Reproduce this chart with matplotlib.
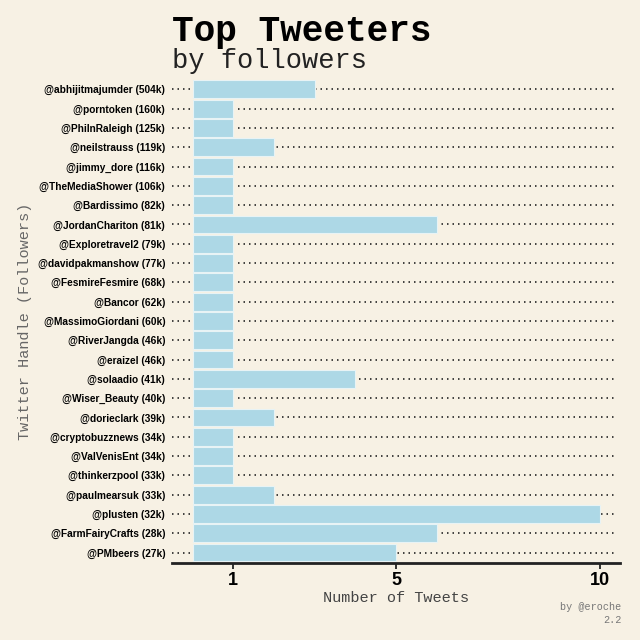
import matplotlib.pyplot as plt
import numpy as np

# ---------------------------------- Data ----------------------------------
handles = ['@abhijitmajumder', '@porntoken', '@PhilnRaleigh', '@neilstrauss',
           '@jimmy_dore', '@TheMediaShower', '@Bardissimo', '@JordanChariton',
           '@Exploretravel2', '@davidpakmanshow', '@FesmireFesmire', '@Bancor',
           '@MassimoGiordani', '@RiverJangda', '@eraizel', '@solaadio',
           '@Wiser_Beauty', '@dorieclark', '@cryptobuzznews', '@ValVenisEnt',
           '@thinkerzpool', '@paulmearsuk', '@plusten', '@FarmFairyCrafts',
           '@PMbeers']
followers = ['504k', '160k', '125k', '119k', '116k', '106k', '82k', '81k',
             '79k', '77k', '68k', '62k', '60k', '46k', '46k', '41k', '40k',
             '39k', '34k', '34k', '33k', '33k', '32k', '28k', '27k']
tweets = [3, 1, 1, 2, 1, 1, 1, 6, 1, 1, 1, 1, 1, 1, 1, 4, 1, 2, 1, 1, 1, 2,
          10, 6, 5]
x_ticks = [1, 5, 10]

bg = '#f7f1e4'
mono = ['Liberation Mono', 'DejaVu Sans Mono']
sans = ['Liberation Sans', 'DejaVu Sans']

# ---------------------------------- Plot ----------------------------------
fig = plt.figure(figsize=(6.4, 6.4), dpi=100, facecolor=bg)
ax = fig.add_axes([0.269, 0.12, 0.70, 0.757], facecolor=bg)

labels = [h + ' (' + f + ')' for h, f in zip(handles, followers)]
y = np.arange(len(handles))[::-1]

ax.barh(y, tweets, height=0.92, color='#add8e6', edgecolor='#e8f3f5',
        linewidth=0.8, zorder=2)

# dotted guide lines behind the bars
for yy in y:
    ax.plot([-0.5, 10.4], [yy, yy], color='#222222', linewidth=1.2,
            dashes=(0.9, 2.4), zorder=1)

ax.set_xlim(-0.5, 10.5)
ax.set_ylim(-0.55, len(handles) - 0.45)

ax.set_yticks(y)
ax.set_yticklabels(labels, family=sans, fontweight='bold', fontsize=7.3)
ax.tick_params(axis='y', length=0, pad=5)

ax.set_xticks(x_ticks)
ax.set_xticklabels([str(t) for t in x_ticks], family=sans,
                   fontweight='bold', fontsize=13)
ax.tick_params(axis='x', length=4, width=1.3, color='#222222', pad=2)

for s in ['top', 'right', 'left']:
    ax.spines[s].set_visible(False)
ax.spines['bottom'].set_linewidth(2)
ax.spines['bottom'].set_color('#222222')

ax.set_xlabel('Number of Tweets', family=mono, fontsize=11, color='#444444',
              labelpad=2)
ax.set_ylabel('Twitter Handle (Followers)', family=mono, fontsize=11,
              color='#666666')
ax.yaxis.set_label_coords(-0.312, 0.5)

fig.text(0.269, 0.951, 'Top Tweeters', family=mono, fontweight='bold',
         fontsize=26, va='center', ha='left')
fig.text(0.269, 0.904, 'by followers', family=mono, fontsize=19.5,
         va='center', ha='left', color='#222222')

fig.text(0.971, 0.051, 'by @eroche', family=mono, fontsize=7.3,
         color='#777777', ha='right', va='center')
fig.text(0.971, 0.031, '2.2', family=mono, fontsize=7.3,
         color='#777777', ha='right', va='center')

plt.savefig('out.png', dpi=100, facecolor=bg)
